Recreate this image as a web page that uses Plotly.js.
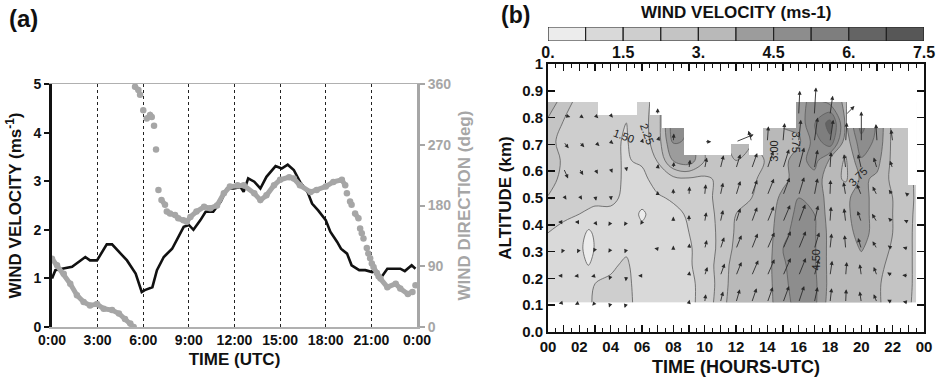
<!DOCTYPE html>
<html><head><meta charset="utf-8">
<script src="https://cdn.plot.ly/plotly-3.0.1.min.js"></script>
<style>html,body{margin:0;padding:0;background:#fff}#chart{width:942px;height:389px}</style>
</head><body><div id="chart"></div>
<script>
// ---------- Panel (a): surface wind ----------
const velT = [0,0.22,0.66,1.32,2.19,2.5,2.96,3.6,3.95,4.3,4.93,5.5,5.9,6.1,6.6,6.9,7.35,7.9,8.2,8.66,9.0,9.3,9.76,10.1,10.6,11.1,11.5,11.95,12.4,12.6,12.9,13.3,13.7,14.1,14.7,15.1,15.5,15.9,16.3,16.8,17.1,17.5,18.0,18.3,18.75,19.0,19.4,19.7,20.2,20.6,21.05,21.3,21.6,22.05,22.5,22.9,23.2,23.65,23.9];
const velV = [1.0,1.17,1.2,1.24,1.44,1.37,1.37,1.7,1.7,1.58,1.37,1.1,0.72,0.76,0.82,1.17,1.44,1.61,1.79,2.06,2.1,2.0,2.2,2.37,2.37,2.58,2.85,2.85,2.88,2.78,3.06,2.99,2.85,3.09,3.31,3.26,3.34,3.23,2.99,2.78,2.54,2.4,2.2,1.96,1.75,1.61,1.51,1.27,1.17,1.17,1.13,1.15,1.0,1.2,1.2,1.2,1.15,1.27,1.2];
const dirT = [0,0.33,0.77,1.2,1.64,2.08,2.5,2.96,3.4,3.95,4.4,4.8,5.15,5.37,
 5.46,5.68,5.79,6.0,6.23,6.45,6.56,6.71,6.84,7.0,7.2,7.43,7.55,7.76,8.09,8.3,8.64,8.86,
 9.1,9.5,10.0,10.4,10.85,11.3,11.7,12.2,12.6,13.3,13.7,14.1,14.6,15.0,15.6,15.9,16.3,17.0,17.4,18.0,18.5,19.06,
 19.28,19.39,19.6,19.7,19.93,20.15,20.26,20.37,20.48,20.7,20.8,20.92,21.03,21.14,21.36,21.47,
 21.6,22.05,22.6,22.9,23.4,23.7,23.9];
const dirV = [101,91.5,79,64,47,37,32,34,27,25,20,12,5,0,
 356,351,344,321,309,314,311,298,263,203,188,181,171,168,166,161,158,156,
 163,171,178,176,180,198,208,210,210,198,188,195,210,218,222,220,210,200,203,208,215,218,
 210,198,186,181,168,161,146,139,131,117,109,102,94,89,80,75,
 72,59,64,57,49,52,62];
const timeTicksA = [0,3,6,9,12,15,18,21,24];
const timeLabelsA = ["0:00","3:00","6:00","9:00","12:00","15:00","18:00","21:00","0:00"];
const dirTicks = [0,90,180,270,360];

// ---------- Panel (b): wind velocity profile ----------
const gridT = [0,1,2,2.6,3,4,5,6,7,8,9,10,11,12,13,14,15,16,17,18,19,20,21,22,23,23.5];
const gridAlt = [0.11,0.18,0.25,0.31,0.37,0.44,0.5,0.57,0.64,0.71,0.78,0.86];
const speed011 = [1.2,1.2,1.2,1.4,1.6,1.7,1.7,1.2,1.1,1.2,1.3,1.8,2.6,3.6,3.6,3.5,4.2,4.8,4.7,3.4,3.2,3.2,3.1,2.7,2.4,2.0];
const speed018 = [1.2,1.2,1.1,1.2,1.5,1.6,1.7,1.1,1.0,1.1,1.3,1.8,2.5,3.5,3.6,3.5,4.3,4.9,4.7,3.5,3.3,3.3,3.1,2.7,2.5,2.0];
const speed025 = [1.2,1.1,1.0,0.72,1.1,1.4,1.6,1.1,1.0,1.1,1.4,1.9,2.5,3.4,3.5,3.5,4.4,4.9,4.6,3.5,3.3,3.5,3.2,2.8,2.5,2.0];
const speed031 = [1.2,1.1,0.9,0.5,0.8,1.2,1.4,1.1,1.0,1.1,1.4,1.9,2.4,3.2,3.3,3.4,4.5,4.9,4.6,3.5,3.4,3.8,3.4,2.9,2.5,2.0];
const speed037 = [1.5,1.35,1.1,0.6,0.9,1.2,1.3,1.0,1.1,1.2,1.5,1.9,2.4,3.1,3.2,3.4,4.3,4.8,4.6,3.5,3.5,4.0,3.5,3.0,2.5,2.0];
const speed044 = [1.8,1.6,1.5,1.45,1.4,1.4,1.3,0.6,1.2,1.3,1.6,2.0,2.4,3.0,3.1,3.4,4.1,4.7,4.5,3.4,3.6,4.1,3.4,3.0,2.6,2.0];
const speed050 = [2.2,1.9,1.7,1.6,1.6,1.6,1.4,1.1,1.4,1.6,1.9,2.1,2.4,2.9,3.0,3.4,3.9,4.5,4.3,3.4,3.6,4.1,3.4,3.0,2.6,2.1];
const speed057 = [2.6,2.0,1.8,1.8,1.7,1.6,1.45,1.3,1.8,2.0,2.1,2.1,2.4,2.8,2.9,3.2,3.6,4.0,4.2,3.3,2.9,3.9,3.6,2.8,2.5,2.1];
const speed064 = [2.8,2.1,1.8,1.8,1.7,1.6,1.45,1.6,2.3,3.8,4.2,3.0,2.5,3.0,2.8,3.05,3.5,4.2,4.8,3.6,2.9,4.4,4.0,2.8,2.5,2.1];
const speed071 = [2.5,2.0,1.8,1.7,1.6,1.6,1.45,1.9,2.6,4.6,4.4,2.8,2.8,3.2,3.0,3.2,3.6,3.6,4.8,5.8,3.3,5.0,4.3,2.8,2.5,2.1];
const speed078 = [2.8,2.2,1.9,1.8,1.7,1.6,1.5,2.0,2.6,5.0,4.5,3.0,3.0,3.0,3.0,3.3,3.8,4.0,5.2,6.3,3.6,5.6,4.4,2.8,2.5,2.1];
const speed086 = [3.6,2.6,2.0,1.9,1.8,1.6,1.6,1.9,2.6,4.8,4.5,3.0,3.0,3.0,3.0,3.3,4.0,4.2,4.8,4.2,3.6,5.5,4.4,2.8,2.5,2.1];

// columns without data (top of the sounding): edges in hours and top altitude (km)
const maskEdges = [0,3.2,5.7,6.5,7.3,8.7,11.7,12.8,13.7,15.8,19.1,23.0,23.5];
const maskTops  = [0.86,0.81,0.86,0.81,0.76,0.66,0.70,0.66,0.76,0.86,0.76,0.55];

// wind vectors (m/s): rows = altitude, cols = hour 1..23
const arrowT = [1,2,3,4,5,6,7,8,9,10,11,12,13,14,15,16,17,18,19,20,21,22,23];
const arrowAlt = [0.11,0.21,0.31,0.41,0.51,0.61,0.71,0.81];
const windU = [
 [-0.9,-0.8,-0.5,-0.3,-0.3,0.1,0.1,0.0,0.1,0.2,0.5,0.7,0.9,1.0,1.1,1.0,0.6,0.3,0.1,-0.3,-0.6,-1.0,-1.0],
 [-1.0,-0.9,-0.7,-0.3,-0.1,-0.7,-0.3,-0.4,0.1,0.5,0.8,1.0,1.2,1.3,1.4,1.3,0.8,0.4,0.2,-0.3,-0.6,-1.0,-1.1],
 [-0.4,-0.4,-0.3,-0.4,-0.3,-0.4,-0.6,0.0,0.1,0.4,0.7,1.0,1.1,1.3,1.4,1.3,0.9,0.3,-0.2,-0.6,-0.8,-0.9,-1.0],
 [-1.0,-0.8,0.4,-0.4,-0.4,-0.3,-0.4,0.0,0.0,0.3,0.5,0.8,1.0,1.2,1.3,1.2,0.7,0.2,-0.3,-0.7,-0.9,-0.8,-0.8],
 [0.5,0.5,0.2,0.1,-0.4,0.0,0.0,0.0,0.1,0.2,0.5,0.8,1.0,1.2,1.2,1.0,0.6,0.1,-0.4,-0.8,-0.8,-0.7,-0.6],
 [0.8,0.7,0.5,0.3,0.1,0.0,0.1,0.1,0.2,0.4,0.6,0.8,1.0,1.1,1.1,1.0,0.6,0.2,-0.3,-0.6,-0.6,-0.5,null],
 [0.9,0.9,0.8,0.5,0.2,0.2,0.3,0.1,null,1.2,null,3.2,-0.6,0.2,0.3,0.4,0.6,0.6,0.2,0.0,-0.2,-0.3,null],
 [1.2,0.8,0.6,0.4,0.2,0.2,0.0,null,null,null,null,null,null,null,null,0.2,0.3,0.5,1.6,null,null,null,null]
];
const windV = [
 [-0.2,-0.4,-0.6,-0.9,-1.0,0.2,0.3,0.3,0.5,1.5,2.0,2.4,2.6,2.8,3.0,3.0,2.8,2.6,2.4,2.0,1.5,0.5,0.2],
 [0.0,-0.1,-0.2,-0.8,-1.0,0.0,0.2,0.0,0.8,1.6,2.2,2.5,2.8,3.0,3.2,3.2,3.0,2.7,2.5,2.1,1.6,0.6,0.1],
 [-0.8,-0.8,-0.6,-0.7,-0.8,0.2,0.1,0.6,1.0,1.6,2.1,2.5,2.8,3.0,3.2,3.2,3.0,2.8,2.5,2.0,1.4,0.6,0.3],
 [0.0,0.0,-0.6,-0.7,-0.7,-0.5,-0.4,1.0,1.3,1.8,2.2,2.5,2.7,2.9,3.1,3.2,3.0,2.8,2.5,2.0,1.5,0.8,0.4],
 [-0.8,-0.8,-1.0,-0.9,0.0,0.4,0.8,1.2,1.6,2.0,2.3,2.6,2.8,3.0,3.2,3.3,3.1,2.8,2.4,2.0,1.6,1.0,0.5],
 [-1.8,-1.2,-1.0,-0.8,-0.5,0.3,0.8,1.2,1.6,2.0,2.4,2.6,2.8,3.2,3.5,3.8,3.4,3.0,2.6,2.6,2.0,1.4,null],
 [-1.2,-1.0,-0.8,-0.4,0.0,0.6,1.0,1.5,null,0.0,null,1.3,2.0,2.8,3.4,4.0,4.4,4.0,3.5,5.5,3.2,2.2,null],
 [-0.4,-0.6,-0.6,-0.5,-0.2,0.4,1.2,null,null,null,null,null,null,null,null,4.4,5.0,3.5,1.6,null,null,null,null]
];

// colour key (m/s)
const keyLevels = [0,0.75,1.5,2.25,3,3.75,4.5,5.25,6,6.75,7.5];
const keyColors = ["#ececec","#d9d9d9","#cecece","#c4c4c4","#b9b9b9","#9c9c9c","#8d8d8d","#7e7e7e","#646464","#575757"];
const keyTicks = [0,1.5,3,4.5,6,7.5];
const keyTickText = ["0.","1.5","3.","4.5","6.","7.5"];

// contour labels
const labelText = ["1.50","2.25","3.00","3.75","3.75","4.50"];
const labelT = [4.85,6.35,14.4,15.85,19.75,17.1];
const labelAlt = [0.73,0.74,0.675,0.71,0.58,0.27];
const labelAngle = [20,70,-90,90,-45,-90];

// ---------- build ----------
const speedRows = [speed011,speed018,speed025,speed031,speed037,speed044,speed050,speed057,speed064,speed071,speed078,speed086];

const lineX = [], lineY = [];
for (let i = 0; i < dirT.length; i++) {
  if (i > 0) {
    const slope = Math.abs(dirV[i]-dirV[i-1])/(dirT[i]-dirT[i-1]);
    if (slope > 45) { lineX.push(null); lineY.push(null); }
  }
  lineX.push(dirT[i]); lineY.push(dirV[i]);
}

const nb = keyColors.length;
const colorscale = keyColors.map((c,k)=>[k/(nb-1), c]);

const maskX = [], maskW = [], maskH = [];
for (let i = 0; i < maskTops.length; i++) {
  maskX.push((maskEdges[i]+maskEdges[i+1])/2);
  maskW.push(maskEdges[i+1]-maskEdges[i]);
  maskH.push(1 - maskTops[i]);
}
const keyX = [], keyW = [], keyY = [];
for (let i = 0; i < nb; i++) {
  keyX.push((keyLevels[i]+keyLevels[i+1])/2);
  keyW.push(keyLevels[i+1]-keyLevels[i]);
  keyY.push(1);
}

const GRAY = "#a6a6a6";
const FONT = "Liberation Sans, Arial, sans-serif";
const bold = (size, color) => ({family: FONT, size: size, color: color || "#111", weight: "bold"});

const traces = [
  {type:"scatter", mode:"lines", x: lineX, y: lineY, xaxis:"x", yaxis:"y2",
   line:{color:GRAY, width:5}, connectgaps:false, hoverinfo:"skip"},
  {type:"scatter", mode:"markers", x: dirT, y: dirV, xaxis:"x", yaxis:"y2",
   marker:{color:GRAY, size:6.5}, hoverinfo:"skip"},
  {type:"scatter", mode:"lines", x: velT, y: velV, xaxis:"x", yaxis:"y",
   line:{color:"#111", width:2.6}, hoverinfo:"skip"},
  {type:"contour", x: gridT, y: gridAlt, z: speedRows, xaxis:"x2", yaxis:"y3",
   contours:{start:0.75, end:6.75, size:0.75, coloring:"fill", showlines:true},
   line:{color:"#5c5c5c", width:0.8, smoothing:1},
   colorscale: colorscale, showscale:false, hoverinfo:"skip"},
  {type:"bar", x: maskX, y: maskH, base: maskTops, width: maskW, xaxis:"x2", yaxis:"y3",
   marker:{color:"#ffffff", line:{width:0}}, hoverinfo:"skip"},
  {type:"bar", x: keyX, y: keyY, width: keyW, xaxis:"x3", yaxis:"y4",
   marker:{color: keyColors, line:{color:"#222", width:1.2}}, hoverinfo:"skip"}
];

const PXH = 376/24, PXK = 268, ARROW_SCALE = 5.5;
const annotations = [];
arrowAlt.forEach((alt, r) => {
  arrowT.forEach((t, c) => {
    const u = windU[r][c], v = windV[r][c];
    if (u === null || v === null || Math.hypot(u, v) < 0.05) return;
    annotations.push({xref:"x2", yref:"y3", axref:"x2", ayref:"y3",
      x: t + u*ARROW_SCALE/PXH, y: alt + v*ARROW_SCALE/PXK, ax: t, ay: alt,
      text:"", showarrow:true, arrowhead:2, arrowsize:0.9, arrowwidth:0.9,
      arrowcolor:"#2b2b2b", standoff:0, startstandoff:0});
  });
});
labelText.forEach((s, i) => {
  annotations.push({xref:"x2", yref:"y3", x: labelT[i], y: labelAlt[i], text: s,
    showarrow:false, textangle: labelAngle[i], font:{family:FONT, size:11, color:"#222"}});
});
annotations.push({xref:"paper", yref:"paper", x: 7/942, y: 1-18/389, xanchor:"left", yanchor:"middle",
  text:"(a)", showarrow:false, font: bold(24)});
annotations.push({xref:"paper", yref:"paper", x: 499/942, y: 1-15/389, xanchor:"left", yanchor:"middle",
  text:"(b)", showarrow:false, font: bold(23)});
annotations.push({xref:"paper", yref:"paper", x: 736/942, y: 1-13/389, xanchor:"center", yanchor:"middle",
  text:"WIND VELOCITY (ms-1)", showarrow:false, font: bold(17)});

const hourTicks = [], hourText = [], halfTicks = [];
for (let h = 0; h <= 24; h++) {
  hourTicks.push(h);
  hourText.push(h % 2 === 0 ? String(h % 24).padStart(2, "0") : "");
  if (h < 24) halfTicks.push(h + 0.5);
}
const altTicks = [0,0.1,0.2,0.3,0.4,0.5,0.6,0.7,0.8,0.9,1];
const altText = ["0.0","0.1","0.2","0.3","0.4","0.5","0.6","0.7","0.8","0.9","1"];

const layout = {
  width:942, height:389, margin:{l:0,r:0,t:0,b:0},
  paper_bgcolor:"#fff", plot_bgcolor:"rgba(0,0,0,0)", showlegend:false, bargap:0,
  font:{family:FONT, color:"#111"},
  xaxis:{domain:[52/942, 417/942], anchor:"y", range:[0,24], tickmode:"array",
    tickvals: timeTicksA, ticktext: timeLabelsA, ticks:"", showgrid:true, gridcolor:"#222",
    griddash:"dot", gridwidth:1, showline:true, linecolor:"#b0b0b0", linewidth:1.5, mirror:true,
    zeroline:false, tickfont: bold(14), title:{text:"TIME (UTC)", font: bold(17), standoff:6}},
  yaxis:{domain:[62/389, 305/389], anchor:"x", range:[0,5], dtick:1, showline:true,
    linecolor:"#111", linewidth:3, ticks:"outside", ticklen:5, tickwidth:2, tickcolor:"#111",
    showgrid:false, zeroline:false, tickfont: bold(14),
    title:{text:"WIND VELOCITY (ms<sup>-1</sup>)", font: bold(17), standoff:8}},
  yaxis2:{overlaying:"y", side:"right", anchor:"x", range:[0,360], tickmode:"array", tickvals: dirTicks,
    showline:true, linecolor:GRAY, linewidth:3, ticks:"outside", ticklen:5, tickwidth:2, tickcolor:GRAY,
    showgrid:false, zeroline:false, tickfont: bold(14, GRAY),
    title:{text:"WIND DIRECTION (deg)", font: bold(17, GRAY), standoff:8}},
  xaxis2:{domain:[548/942, 924/942], anchor:"y3", range:[0,24], tickmode:"array",
    tickvals: hourTicks, ticktext: hourText, ticks:"inside", ticklen:7, tickwidth:1.5, tickcolor:"#111",
    minor:{tickmode:"array", tickvals: halfTicks, ticks:"inside", ticklen:4, tickwidth:1, tickcolor:"#111"},
    mirror:"allticks", showline:true, linecolor:"#111", linewidth:2, showgrid:false, zeroline:false,
    tickfont: bold(15), title:{text:"TIME (HOURS-UTC)", font: bold(18), standoff:6}},
  yaxis3:{domain:[57/389, 325/389], anchor:"x2", range:[0,1], tickmode:"array",
    tickvals: altTicks, ticktext: altText, ticks:"inside", ticklen:7, tickwidth:1.5, tickcolor:"#111",
    mirror:"allticks", showline:true, linecolor:"#111", linewidth:2, showgrid:false, zeroline:false,
    tickfont: bold(15), title:{text:"ALTITUDE (km)", font: bold(17), standoff:6}},
  xaxis3:{domain:[548/942, 924/942], anchor:"y4", range:[0,7.5], tickmode:"array",
    tickvals: keyTicks, ticktext: keyTickText, ticks:"", showline:false, showgrid:false,
    zeroline:false, tickfont: bold(16)},
  yaxis4:{domain:[348/389, 362/389], anchor:"x3", range:[0,1], visible:false},
  annotations: annotations
};

Plotly.newPlot("chart", traces, layout, {staticPlot:true, displayModeBar:false});
</script></body></html>
